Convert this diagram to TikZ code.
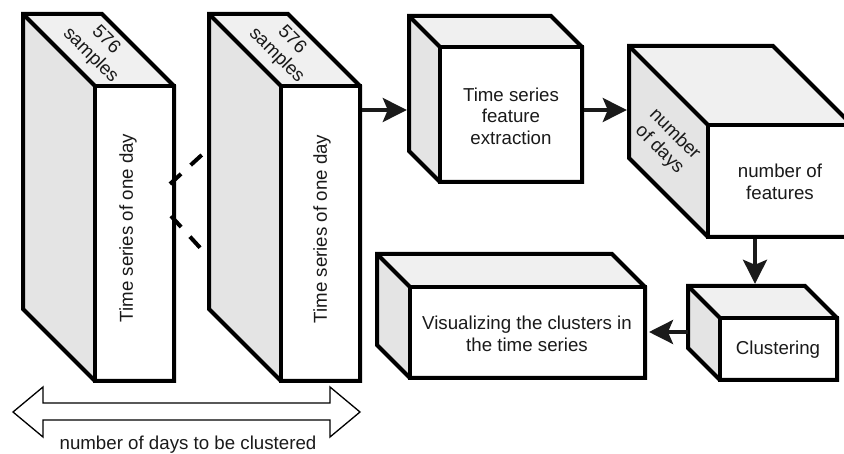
\documentclass[tikz,border=0pt]{standalone}
\usepackage{fontspec}
\setmainfont{Liberation Sans}
\usetikzlibrary{arrows.meta,fit}

\definecolor{topgray}{RGB}{240,240,240}
\definecolor{sidegray}{RGB}{228,228,228}
\definecolor{ink}{RGB}{26,26,26}

\tikzset{
  edge/.style={line width=4pt, draw=black, line join=miter},
  frontface/.style={draw=black, fill=white, line width=4pt, inner sep=0pt},
  txt/.style={font=\fontsize{18.7}{21.5}\selectfont, text=ink, align=center, inner sep=0pt},
  conn/.style={line width=3.6pt, draw=ink, -{Stealth[length=24pt,width=24pt,inset=5pt]}, shorten >=2pt},
  gapline/.style={line width=4pt, draw=black, dash pattern=on 15pt off 13pt},
  spanarrow/.style={draw=black, fill=white, line width=1.3pt, line join=miter},
}

% cuboid: #1 name, #2 left, #3 top, #4 right, #5 bottom of the front face, #6 depth
\newcommand\cuboid[6]{%
  \fill[topgray] (#2,#3) -- (#2-#6,#3-#6) -- (#4-#6,#3-#6) -- (#4,#3) -- cycle;
  \fill[sidegray] (#2,#3) -- (#2-#6,#3-#6) -- (#2-#6,#5-#6) -- (#2,#5) -- cycle;
  \node[frontface, fit={(#2,#3) (#4,#5)}] (#1) {};
  \node[inner sep=0pt, fit={(#2-#6,#3-#6) (#4-#6,#5-#6)}] (#1-back) {};
  \draw[edge] (#2-#6,#3-#6) -- (#4-#6,#3-#6) -- (#4,#3) -- (#4,#5) -- (#2,#5)
              -- (#2-#6,#5-#6) -- cycle;
  \draw[edge] (#2-#6,#3-#6) -- (#2,#3);
}

\begin{document}
\begin{tikzpicture}[x=1pt, y=-1pt]
  \useasboundingbox (0,0) rectangle (844,454);
  \clip (0,0) rectangle (844,454);

  % two day slices
  \cuboid{day1}{95}{86}{174}{381}{72}
  \cuboid{day2}{281}{86}{360}{381}{72}

  % dashed continuation between the slices
  \coordinate (g1a) at (170,184);
  \coordinate (g1b) at (205,152);
  \coordinate (g2a) at (171,216);
  \coordinate (g2b) at (204,252);
  \draw[gapline] (g1a) -- (g1b);
  \draw[gapline] (g2a) -- (g2b);

  \node[txt, rotate=90] at (128,228) {Time series of one day};
  \node[txt, rotate=-45] at (98,48) {576\\samples};
  \node[txt, rotate=90] at (322,229) {Time series of one day};
  \node[txt, rotate=-45] at (284,48) {576\\samples};

  % processing steps
  \cuboid{feat}{440}{47}{582}{182}{31}
  \node[txt] at (511,116) {Time series\\feature\\extraction};

  \cuboid{table}{708}{125}{852}{237}{79}
  \node[txt] at (780,182) {number of\\features};
  \node[txt, rotate=-45] at (667,142) {number\\of days};

  \cuboid{clust}{720}{318}{837}{380}{32}
  \node[txt] at (778,350) {Clustering};

  \cuboid{vis}{410}{287}{645}{378}{33}
  \node[txt] at (527,334) {Visualizing the clusters in\\the time series};

  % connectors
  \coordinate (row1) at (0,110);
  \coordinate (col1) at (755,0);
  \coordinate (row2) at (0,332);
  \draw[conn] (day2.east |- row1) -- (feat-back.west |- row1);
  \draw[conn] (feat.east |- row1) -- (table-back.west |- row1);
  \draw[conn] (table.south -| col1) -- (clust-back.north -| col1);
  \draw[conn] (clust-back.west |- row2) -- (vis.east |- row2);

  % span of the day slices
  \draw[spanarrow] (13,412) -- (43,387) -- (43,403) -- (330,403) -- (330,387) -- (360,412)
                   -- (330,437) -- (330,420) -- (43,420) -- (43,437) -- cycle;
  \node[txt] (spanlabel) at (188,445) {number of days to be clustered};
\end{tikzpicture}
\end{document}
